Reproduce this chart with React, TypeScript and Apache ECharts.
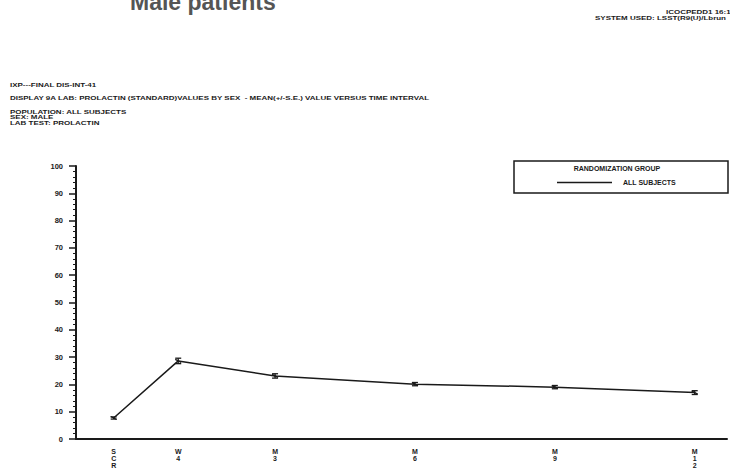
import React, { useEffect, useRef } from "react";
import * as echarts from "echarts";

// Visit labels and their position in weeks from randomisation
const visitLabels = ["SCR", "W4", "M3", "M6", "M9", "M12"];
const visitWeek = [-2, 4, 13, 26, 39, 52];
// Prolactin (standard) mean and standard error, male patients
const meanProlactin = [7.7, 28.6, 23.1, 20.1, 19.0, 17.0];
const seProlactin = [0.4, 1.0, 0.8, 0.6, 0.6, 0.7];
const seriesName = "ALL SUBJECTS";
const legendTitle = "RANDOMIZATION GROUP";

const headerLines = [
  "IXP---FINAL DIS-INT-41",
  "DISPLAY 9A LAB: PROLACTIN (STANDARD)VALUES BY SEX  - MEAN(+/-S.E.) VALUE VERSUS TIME INTERVAL",
  "POPULATION: ALL SUBJECTS",
  "SEX: MALE",
  "LAB TEST: PROLACTIN",
];
const topRightLines = ["ICOCPEDD1 16:1", "SYSTEM USED: LSST(R9(U)/Lbrun"];

const FONT = "Liberation Sans";
const INK = "#1a1a1a";

export default function App() {
  const ref = useRef<HTMLDivElement>(null);
  useEffect(() => {
    const chart = echarts.init(ref.current!, null, { renderer: "svg" });
    const smallText = (text: string, x: number, y: number, align = "left") => ({
      type: "text",
      x,
      y,
      scaleX: 1.33,
      style: {
        text,
        font: `bold 6px "${FONT}"`,
        fill: INK,
        align,
        verticalAlign: "middle",
      },
    });
    const headerY = [85, 98, 112, 117.3, 122.6];
    const option: any = {
      animation: false,
      backgroundColor: "#ffffff",
      grid: { left: 76, right: 0, top: 166, bottom: 29 },
      xAxis: {
        type: "value",
        min: -5.5,
        max: 55,
        interval: 0.5,
        axisLine: { show: true, onZero: false, lineStyle: { color: INK, width: 2 } },
        axisTick: { show: false },
        splitLine: { show: false },
        axisLabel: {
          show: true,
          margin: 9,
          fontSize: 7,
          fontWeight: "bold",
          fontFamily: FONT,
          color: INK,
          lineHeight: 7,
          verticalAlign: "top",
          showMinLabel: true,
          showMaxLabel: true,
          formatter: (v: number) => {
            const i = visitWeek.indexOf(v);
            return i >= 0 ? visitLabels[i].split("").join("\n") : "";
          },
        },
      },
      yAxis: {
        type: "value",
        min: 0,
        max: 100,
        interval: 10,
        axisLine: { show: true, onZero: false, lineStyle: { color: INK, width: 2 } },
        axisTick: { show: true, length: 7, lineStyle: { color: INK, width: 1.5 } },
        minorTick: { show: true, splitNumber: 5, length: 3, lineStyle: { color: INK, width: 1 } },
        splitLine: { show: false },
        axisLabel: {
          margin: 13,
          fontSize: 7.5,
          fontWeight: "bold",
          fontFamily: FONT,
          color: INK,
        },
      },
      legend: {
        data: [seriesName],
        left: 557,
        top: 179,
        padding: 0,
        icon: "rect",
        itemWidth: 55,
        itemHeight: 1.5,
        textStyle: {
          fontSize: 7,
          fontWeight: "bold",
          fontFamily: FONT,
          color: INK,
          padding: [0, 0, 0, 6],
        },
      },
      series: [
        {
          name: seriesName,
          type: "line",
          data: visitWeek.map((w, i) => [w, meanProlactin[i]]),
          symbol: "none",
          lineStyle: { color: INK, width: 1.5 },
          itemStyle: { color: INK },
        },
        {
          name: "se",
          type: "custom",
          data: visitWeek.map((w, i) => [w, meanProlactin[i], seProlactin[i]]),
          encode: { x: 0, y: 1 },
          renderItem: (_p: any, api: any) => {
            const x = api.value(0);
            const m = api.value(1);
            const e = api.value(2);
            const top = api.coord([x, m + e]);
            const bot = api.coord([x, m - e]);
            const mid = api.coord([x, m]);
            const w = 3;
            const st = { stroke: INK, lineWidth: 1.3 };
            return {
              type: "group",
              children: [
                { type: "line", shape: { x1: top[0], y1: top[1], x2: bot[0], y2: bot[1] }, style: st },
                { type: "line", shape: { x1: top[0] - w, y1: top[1], x2: top[0] + w, y2: top[1] }, style: st },
                { type: "line", shape: { x1: bot[0] - w, y1: bot[1], x2: bot[0] + w, y2: bot[1] }, style: st },
                { type: "line", shape: { x1: mid[0] - w, y1: mid[1] - 1.5, x2: mid[0] + w, y2: mid[1] + 1.5 }, style: st },
              ],
            };
          },
          z: 3,
        },
      ],
      graphic: [
        {
          type: "text",
          x: 130,
          y: -10,
          style: {
            text: "Male patients",
            font: `bold 23px "${FONT}"`,
            fill: "#555555",
            verticalAlign: "top",
          },
        },
        smallText(topRightLines[0], 666, 12),
        smallText(topRightLines[1], 595, 17.5),
        ...headerLines.map((t, i) => smallText(t, 10, headerY[i])),
        {
          type: "rect",
          shape: { x: 514, y: 161, width: 214, height: 32 },
          style: { fill: "none", stroke: INK, lineWidth: 1.5 },
        },
        {
          type: "text",
          x: 617,
          y: 168,
          style: {
            text: legendTitle,
            font: `bold 7px "${FONT}"`,
            fill: INK,
            align: "center",
            verticalAlign: "middle",
          },
        },
      ],
    };
    chart.setOption(option);
    return () => chart.dispose();
  }, []);
  return (
    <div
      ref={ref}
      style={{ position: "fixed", left: 0, top: 0, width: 730, height: 469, background: "#fff" }}
    />
  );
}
